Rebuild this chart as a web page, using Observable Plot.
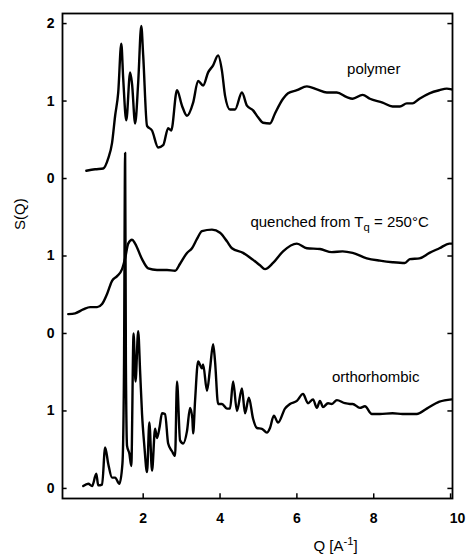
<!DOCTYPE html>
<html>
<head>
<meta charset="utf-8">
<script src="https://cdn.jsdelivr.net/npm/d3@7"></script>
<script src="https://cdn.jsdelivr.net/npm/@observablehq/plot@0.6"></script>
<style>
  html, body { margin: 0; padding: 0; background: #fff; }
  #chart { width: 466px; height: 559px; }
</style>
</head>
<body>
<div id="chart"></div>
<script>
// Structure factor S(Q) of three samples, stacked with vertical offsets.
const polymerQ = [0.52,0.75,0.96,1.09,1.19,1.27,1.35,1.43,1.48,1.56,1.66,1.71,1.79,1.87,1.95,2.00,2.10,2.23,2.39,2.52,2.65,2.73,2.88,3.01,3.14,3.30,3.43,3.56,3.69,3.82,3.95,4.05,4.13,4.26,4.39,4.57,4.70,4.86,4.99,5.12,5.30,5.43,5.64,5.77,6.00,6.26,6.52,6.78,7.04,7.30,7.45,7.71,7.90,8.23,8.49,8.68,8.86,9.01,9.19,9.45,9.71,9.90,10.03];
const polymerS = [0.10,0.12,0.13,0.26,0.46,0.81,1.11,1.74,1.29,0.75,1.37,1.22,0.71,1.24,1.97,1.59,0.68,0.62,0.40,0.43,0.65,0.62,1.14,0.94,0.81,0.98,1.26,1.20,1.37,1.46,1.59,1.39,1.07,0.89,0.89,1.11,0.94,0.88,0.79,0.72,0.71,0.84,1.03,1.10,1.14,1.19,1.15,1.11,1.11,1.05,1.03,1.08,1.03,0.98,0.93,0.93,0.97,0.97,1.03,1.10,1.14,1.16,1.15];

const quenchedQ = [0.05,0.23,0.44,0.62,0.80,0.93,1.06,1.19,1.32,1.45,1.53,1.61,1.71,1.79,1.97,2.13,2.36,2.62,2.83,2.96,3.14,3.27,3.40,3.53,3.79,4.00,4.18,4.31,4.60,4.86,5.04,5.17,5.38,5.64,6.00,6.26,6.60,6.91,7.19,7.45,7.82,8.16,8.49,8.81,8.94,9.19,9.45,9.71,9.97,10.03];
const quenchedS = [0.25,0.26,0.31,0.34,0.34,0.38,0.51,0.68,0.74,0.83,0.97,1.16,1.21,1.16,0.96,0.84,0.82,0.82,0.81,0.90,1.04,1.10,1.22,1.32,1.34,1.30,1.19,1.10,1.04,0.95,0.88,0.83,0.91,1.06,1.16,1.10,1.09,1.05,1.06,1.04,0.97,0.94,0.92,0.91,0.96,0.97,1.04,1.10,1.16,1.16];

const orthoQ = [0.44,0.57,0.67,0.78,0.83,0.93,1.01,1.09,1.19,1.27,1.38,1.46,1.50,1.53,1.55,1.58,1.64,1.69,1.75,1.80,1.87,1.92,1.97,2.03,2.10,2.16,2.23,2.31,2.36,2.43,2.49,2.57,2.65,2.75,2.83,2.88,2.96,3.04,3.14,3.22,3.28,3.30,3.35,3.43,3.53,3.56,3.66,3.74,3.82,3.87,3.95,4.05,4.18,4.26,4.34,4.44,4.57,4.65,4.75,4.86,4.96,5.09,5.22,5.30,5.40,5.51,5.69,5.82,6.00,6.16,6.29,6.42,6.52,6.60,6.68,6.81,6.91,7.04,7.25,7.38,7.45,7.64,7.77,7.95,8.16,8.49,8.75,9.12,9.38,9.71,10.03];
const orthoS = [0.03,0.06,0.03,0.19,0.04,0.05,0.53,0.32,0.14,0.14,0.06,0.32,1.50,4.33,1.60,0.55,0.45,0.29,2.00,1.38,2.03,1.51,0.96,0.55,0.21,0.85,0.23,0.77,0.65,0.80,0.97,0.96,0.58,0.48,0.42,1.38,0.62,0.58,0.74,1.04,0.90,0.71,1.13,1.64,1.55,1.60,1.26,1.55,1.86,1.64,1.09,1.09,1.03,1.03,1.38,1.00,1.29,0.97,1.17,0.90,0.78,0.77,0.72,0.78,0.94,0.85,1.03,1.09,1.13,1.22,1.10,1.15,1.04,1.13,1.05,1.10,1.09,1.14,1.10,1.09,1.09,1.04,1.06,0.96,0.96,0.97,0.96,0.96,1.03,1.12,1.15];

const seriesNames = ["polymer", "quenched", "orthorhombic"];
const seriesOffsets = [4, 2, 0];
const seriesQ = [polymerQ, quenchedQ, orthoQ];
const seriesS = [polymerS, quenchedS, orthoS];

const xTicks = [2, 4, 6, 8, 10];
const yTickPos = [0, 1, 2, 3, 4, 5, 6];
const yTickLabels = ["0", "1", "0", "1", "0", "1", "2"];

const xDomain = [-0.1, 10.05];
const yDomain = [-0.13, 6.13];

const rows = seriesNames.flatMap((name, k) =>
  seriesQ[k].map((q, i) => ({series: name, q, s: seriesS[k][i] + seriesOffsets[k]}))
);

const font = "'Liberation Sans', Arial, Helvetica, sans-serif";
const lastTick = xTicks[xTicks.length - 1];

const chart = Plot.plot({
  width: 466,
  height: 559,
  marginLeft: 62,
  marginRight: 14,
  marginTop: 13,
  marginBottom: 61,
  x: {domain: xDomain},
  y: {domain: yDomain},
  style: {fontFamily: font, background: "white", color: "black"},
  marks: [
    Plot.line(rows, {x: "q", y: "s", z: "series", stroke: "black", strokeWidth: 2.4, strokeLinejoin: "round", curve: "monotone-x"}),
    Plot.frame({stroke: "black", strokeWidth: 1.8}),
    // inward tick marks
    Plot.ruleY(yTickPos, {y: d => d, x1: xDomain[0], x2: xDomain[0] + 0.12, stroke: "black", strokeWidth: 1.5}),
    Plot.ruleY(yTickPos, {y: d => d, x1: xDomain[1] - 0.12, x2: xDomain[1], stroke: "black", strokeWidth: 1.5}),
    Plot.ruleX(xTicks, {x: d => d, y1: yDomain[0], y2: yDomain[0] + 0.06, stroke: "black", strokeWidth: 1.5}),
    Plot.axisX(xTicks.filter(d => d !== lastTick), {tickSize: 0, tickPadding: 15, fontSize: 14, fontWeight: "bold", label: null}),
    Plot.axisX([lastTick], {tickSize: 0, tickPadding: 15, dx: 7, fontSize: 14, fontWeight: "bold", label: null}),
    Plot.axisY(yTickPos, {tickSize: 0, tickPadding: 8, tickFormat: (d, i) => yTickLabels[i], fontSize: 14, fontWeight: "bold", label: null}),
    // curve labels
    Plot.text(["polymer"], {x: 8.0, y: 5.355, text: d => d, textAnchor: "middle", lineAnchor: "bottom", fontSize: 15}),
    Plot.text(["quenched from T|q| = 250°C"], {x: 4.79, y: 3.37, text: d => d, textAnchor: "start", lineAnchor: "bottom", fontSize: 15}),
    Plot.text(["orthorhombic"], {x: 8.05, y: 1.38, text: d => d, textAnchor: "middle", lineAnchor: "bottom", fontSize: 15}),
    // axis titles
    Plot.text(["S(Q)"], {frameAnchor: "left", text: d => d, rotate: -90, dx: -42, dy: -26, fontSize: 15}),
    Plot.text(["Q [A|-1|]"], {frameAnchor: "bottom", text: d => d, dx: 78, dy: 52, lineAnchor: "bottom", fontSize: 15})
  ]
});

// Replace the |…| markers with sub/superscript tspans.
d3.select(chart).selectAll("text").each(function () {
  const t = this.textContent;
  if (!t.includes("|")) return;
  const parts = t.split("|");
  const sel = d3.select(this);
  const isSub = t.startsWith("quenched");
  sel.text(null);
  parts.forEach((p, i) => {
    const ts = sel.append("tspan").text(p);
    if (i === 1) {
      ts.attr("dy", isSub ? "0.3em" : "-0.45em").attr("font-size", "0.75em");
    } else if (i === 2) {
      ts.attr("dy", isSub ? "-0.225em" : "0.34em");
    }
  });
});

document.getElementById("chart").appendChild(chart);
</script>
</body>
</html>
